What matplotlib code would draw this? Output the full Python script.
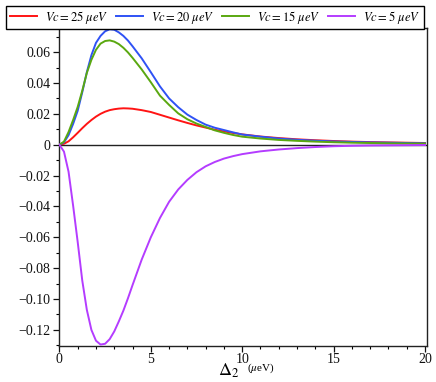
import matplotlib
matplotlib.use("Agg")
from matplotlib import pyplot as plt
from matplotlib.ticker import FixedLocator, MultipleLocator

plt.rcParams['font.family'] = ['Liberation Serif', 'DejaVu Serif']
plt.rcParams['mathtext.fontset'] = 'stix'

# Delta_2 (micro eV)
delta2 = [0, 0.25, 0.5, 0.75, 1.0, 1.25, 1.5, 1.75, 2.0, 2.25, 2.5, 2.75,
          3.0, 3.25, 3.5, 3.75, 4.0, 4.5, 5.0, 5.5, 6.0, 6.5, 7.0, 7.5,
          8.0, 8.5, 9.0, 9.5, 10, 11, 12, 13, 14, 15, 16, 17, 18, 19, 20]

vc25 = [0, 0.0006, 0.0022, 0.0048, 0.0077, 0.0107, 0.0135, 0.0160, 0.0182,
        0.0200, 0.0214, 0.0224, 0.0230, 0.0234, 0.0236, 0.0235, 0.0233,
        0.0224, 0.0212, 0.0194, 0.0176, 0.0158, 0.0141, 0.0125, 0.0111,
        0.0097, 0.0086, 0.0076, 0.0067, 0.0053, 0.0043, 0.0035, 0.0029,
        0.0024, 0.0020, 0.0017, 0.0015, 0.0013, 0.0011]

vc20 = [0, 0.0015, 0.0062, 0.0135, 0.0220, 0.0340, 0.0470, 0.0580, 0.0660,
        0.0705, 0.0735, 0.0748, 0.0745, 0.0728, 0.0705, 0.0675, 0.0638,
        0.0560, 0.0470, 0.0378, 0.0300, 0.0243, 0.0195, 0.0160, 0.0130,
        0.0110, 0.0095, 0.0080, 0.0066, 0.0052, 0.0040, 0.0032, 0.0026,
        0.0021, 0.0018, 0.0015, 0.0013, 0.0011, 0.0009]

vc15 = [0, 0.0020, 0.0082, 0.0160, 0.0245, 0.0350, 0.0465, 0.0550, 0.0615,
        0.0655, 0.0672, 0.0676, 0.0668, 0.0652, 0.0628, 0.0598, 0.0563,
        0.0488, 0.0405, 0.0318, 0.0258, 0.0203, 0.0165, 0.0137, 0.0115,
        0.0093, 0.0077, 0.0063, 0.0052, 0.0040, 0.0031, 0.0025, 0.0020,
        0.0016, 0.0013, 0.0011, 0.0009, 0.0008, 0.0007]

vc5 = [0, -0.0045, -0.0175, -0.0395, -0.0630, -0.0880, -0.1070, -0.1200,
       -0.1270, -0.1295, -0.1290, -0.1260, -0.1210, -0.1145, -0.1075,
       -0.0995, -0.0910, -0.0745, -0.0600, -0.0475, -0.0370, -0.0290,
       -0.0228, -0.0178, -0.0140, -0.0112, -0.0090, -0.0074, -0.0061,
       -0.0043, -0.0031, -0.0022, -0.0015, -0.0010, -0.0007, -0.0005,
       -0.0004, -0.0003, -0.0002]

series = [vc25, vc20, vc15, vc5]
labels = [r'$Vc = 25\ \mu eV$', r'$Vc = 20\ \mu eV$',
          r'$Vc = 15\ \mu eV$', r'$Vc = 5\ \mu eV$']
colors = ['#ff1414', '#2f52f5', '#5aa810', '#b43cff']

ytick_vals = [0.06, 0.04, 0.02, 0, -0.02, -0.04, -0.06, -0.08, -0.10, -0.12]
ytick_labels = ['0.06', '0.04', '0.02', '0', '\u22120.02', '\u22120.04',
                '\u22120.06', '\u22120.08', '\u22120.10', '\u22120.12']
xtick_vals = [0, 5, 10, 15, 20]

fig = plt.figure(figsize=(4.36, 3.82), dpi=100)
ax = fig.add_axes([0.135, 0.094, 0.844, 0.833])

lines = []
for ys, lab, col in zip(series, labels, colors):
    ln, = ax.plot(delta2, ys, color=col, lw=1.4, label=lab, zorder=3)
    lines.append(ln)

ax.axhline(0, color='#222222', lw=1.0, zorder=2)

ax.set_xlim(-0.03, 20.1)
ax.set_ylim(-0.1305, 0.0757)

ax.xaxis.set_major_locator(FixedLocator(xtick_vals))
ax.xaxis.set_minor_locator(MultipleLocator(1))
ax.set_xticklabels([str(v) for v in xtick_vals])
ax.yaxis.set_major_locator(FixedLocator(ytick_vals))
ax.yaxis.set_minor_locator(MultipleLocator(0.01))
ax.set_yticklabels(ytick_labels)

ax.tick_params(which='major', direction='out', length=4, width=0.9,
               labelsize=10, pad=2, colors='#111111')
ax.tick_params(axis='x', which='major', pad=1)
ax.tick_params(which='minor', direction='out', length=2.5, width=0.8)
ax.tick_params(top=False, right=False, which='both')
for s in ax.spines.values():
    s.set_linewidth(1.0)
    s.set_color('#222222')

fig.text(0.525, 0.004, r'$\mathit{\Delta}_2$', fontsize=13, ha='center',
         va='bottom')
fig.text(0.566, 0.019, r'($\mu$eV)', fontsize=8, ha='left', va='bottom')

leg = fig.legend(lines, labels, loc='upper center', ncol=4,
                 bbox_to_anchor=(0.4935, 0.992), fontsize=9,
                 frameon=True, fancybox=False, edgecolor='black',
                 framealpha=1, handlelength=2.2, handletextpad=0.65,
                 columnspacing=0.55, borderpad=0.25, borderaxespad=0.2)
leg.get_frame().set_linewidth(1.0)

plt.savefig('out.png', dpi=100)
